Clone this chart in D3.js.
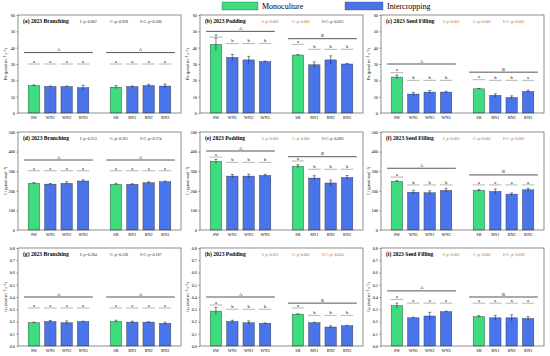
<!DOCTYPE html>
<html>
<head>
<meta charset="utf-8">
<script src="https://cdn.jsdelivr.net/npm/d3@7"></script>
<style>
  body { margin: 0; background: #fff; }
  text { font-family: "Liberation Serif", "DejaVu Serif", serif; }
</style>
</head>
<body>
<div id="chart"></div>
<script>
// treatments along the x axis (a blank slot separates the two groups)
var treatments = ["SW", "WN1", "WN2", "WN3", "SR", "RN1", "RN2", "RN3"];
var monoculture = ["SW", "SR"];

// Pn (umol m-2 s-1)
var pnBranching = [16.8, 16.2, 16.2, 15.5, 15.8, 16.2, 16.8, 16.5];
var pnBranchingErr = [0.4, 0.3, 0.3, 1.5, 1.0, 0.3, 0.8, 1.2];
var pnPodding = [42, 34, 32.5, 31.5, 35.5, 29.5, 32.5, 30];
var pnPoddingErr = [4, 1.8, 2.2, 0.3, 0.3, 1.8, 2.5, 0.3];
var pnFilling = [22, 11.6, 12.8, 12.8, 14.8, 10.8, 9.5, 13.2];
var pnFillingErr = [1.2, 1, 1, 0.5, 0.2, 1, 1, 0.8];

// Ci (umol mol-1)
var ciBranching = [238, 234, 238, 250, 233, 233, 241, 246];
var ciBranchingErr = [5, 3, 8, 6, 5, 3, 5, 4];
var ciPodding = [350, 275, 275, 278, 325, 265, 240, 268];
var ciPoddingErr = [10, 8, 10, 6, 8, 12, 14, 10];
var ciFilling = [248, 193, 190, 202, 202, 197, 183, 205];
var ciFillingErr = [4, 10, 10, 10, 4, 12, 6, 8];

// Gs (mol m-2 s-1)
var gsBranching = [0.19, 0.2, 0.19, 0.2, 0.2, 0.195, 0.195, 0.185];
var gsBranchingErr = [0.005, 0.008, 0.015, 0.003, 0.01, 0.008, 0.003, 0.01];
var gsPodding = [0.285, 0.2, 0.19, 0.185, 0.26, 0.19, 0.155, 0.165];
var gsPoddingErr = [0.03, 0.01, 0.015, 0.003, 0.003, 0.004, 0.01, 0.003];
var gsFilling = [0.33, 0.23, 0.245, 0.28, 0.24, 0.23, 0.23, 0.225];
var gsFillingErr = [0.02, 0.005, 0.03, 0.005, 0.008, 0.02, 0.025, 0.015];

// significance letters
var lettersA = ["a", "a", "a", "a", "a", "a", "a", "a"];
var lettersB = ["a", "b", "b", "b", "a", "b", "b", "b"];
var lettersC = ["a", "b", "b", "b", "a", "b", "b", "a"];
var lettersF = ["a", "b", "b", "b", "a", "a", "a", "a"];

// panel titles and p values
var titles = ["(a) 2023 Branching", "(b) 2023 Podding", "(c) 2023 Seed Filling",
              "(d) 2023 Branching", "(e) 2023 Podding", "(f) 2023 Seed Filling",
              "(g) 2023 Branching", "(h) 2023 Podding", "(i) 2023 Seed Filling"];
var pValues = [
  ["I: p=0.807", "C: p=0.928", "I×C: p=0.280"],
  ["I: p<0.001", "C: p<0.001", "I×C: p=0.035"],
  ["I: p<0.001", "C: p<0.001", "I×C: p<0.001"],
  ["I: p=0.213", "C: p=0.261", "I×C: p=0.374"],
  ["I: p<0.001", "C: p<0.001", "I×C: p=0.096"],
  ["I: p<0.001", "C: p<0.001", "I×C: p=0.002"],
  ["I: p=0.384", "C: p=0.538", "I×C: p=0.187"],
  ["I: p=0.021", "C: p<0.001", "I×C: p=0.024"],
  ["I: p=0.001", "C: p=0.001", "I×C: p=0.038"]
];
var pSignificant = [
  [false, false, false], [true, true, false], [true, true, true],
  [false, false, false], [true, true, false], [true, true, true],
  [false, false, false], [true, true, true], [true, true, true]
];

var panels = [
  {v: pnBranching, e: pnBranchingErr, max: 60, step: 10, fmt: "d", letters: lettersA, groupLetters: ["A", "A"],
   short: [30, 30, 30, 30, 30, 30, 30, 30], long: [37, 37]},
  {v: pnPodding, e: pnPoddingErr, max: 60, step: 10, fmt: "d", letters: lettersB, groupLetters: ["A", "B"],
   short: [46.5, 42.5, 42.5, 42.5, 42, 39, 39, 39], long: [50, 45.5]},
  {v: pnFilling, e: pnFillingErr, max: 60, step: 10, fmt: "d", letters: lettersC, groupLetters: ["A", "B"],
   short: [24.7, 20, 20, 20, 20.4, 20, 20, 20], long: [30, 25]},
  {v: ciBranching, e: ciBranchingErr, max: 500, step: 100, fmt: "d", letters: lettersA, groupLetters: ["A", "A"],
   short: [302, 302, 302, 302, 302, 302, 302, 302], long: [357, 357]},
  {v: ciPodding, e: ciPoddingErr, max: 500, step: 100, fmt: "d", letters: lettersB, groupLetters: ["A", "B"],
   short: [372, 345, 345, 345, 352, 310, 310, 310], long: [403, 374]},
  {v: ciFilling, e: ciFillingErr, max: 500, step: 100, fmt: "d", letters: lettersF, groupLetters: ["A", "B"],
   short: [270, 230, 230, 230, 230, 230, 230, 230], long: [315, 281]},
  {v: gsBranching, e: gsBranchingErr, max: 0.8, step: 0.1, fmt: ".1f", letters: lettersA, groupLetters: ["A", "A"],
   short: [0.31, 0.31, 0.31, 0.31, 0.31, 0.31, 0.31, 0.31], long: [0.4, 0.4]},
  {v: gsPodding, e: gsPoddingErr, max: 0.8, step: 0.1, fmt: ".1f", letters: lettersB, groupLetters: ["A", "B"],
   short: [0.335, 0.3, 0.3, 0.3, 0.31, 0.25, 0.25, 0.25], long: [0.4, 0.35]},
  {v: gsFilling, e: gsFillingErr, max: 0.8, step: 0.1, fmt: ".1f", letters: lettersA, groupLetters: ["A", "B"],
   short: [0.38, 0.35, 0.35, 0.35, 0.35, 0.35, 0.35, 0.35], long: [0.45, 0.4]}
];

var yTitles = ["Pn (μmol m⁻² s⁻¹)", "Ci (μmol mol⁻¹)", "Gs (mol m⁻² s⁻¹)"];

var greenFill = "#3ddc7e", blueFill = "#4a74ea";
var sigColor = "#b5651d";

var svg = d3.select("#chart").append("svg")
  .attr("width", 550)
  .attr("height", 356);

// legend
var legend = svg.append("g").attr("transform", "translate(222, 2)");
legend.append("rect").attr("x", 0).attr("y", 0).attr("width", 36).attr("height", 8)
  .attr("fill", greenFill).attr("stroke", "#333").attr("stroke-width", 0.3);
legend.append("text").attr("x", 40).attr("y", 7.2).attr("font-size", 8).text("Monoculture");
legend.append("rect").attr("x", 123).attr("y", 0).attr("width", 38).attr("height", 8)
  .attr("fill", blueFill).attr("stroke", "#333").attr("stroke-width", 0.3);
legend.append("text").attr("x", 165).attr("y", 7.2).attr("font-size", 8).text("Intercropping");

var colLeft = [18, 200, 381];
var rowTop = [15, 132, 248];
var w = 163, h = 98;

var slots = ["SW", "WN1", "WN2", "WN3", "", "SR", "RN1", "RN2", "RN3"];
var x = d3.scaleBand().domain(slots).range([0, w]).paddingInner(0.3).paddingOuter(0.62);
var bw = x.bandwidth();

panels.forEach(function(p, i) {
  var col = i % 3, row = Math.floor(i / 3);
  var g = svg.append("g").attr("transform", "translate(" + colLeft[col] + "," + rowTop[row] + ")");

  var y = d3.scaleLinear().domain([0, p.max]).range([h, 0]);
  var ticks = d3.range(0, p.max + p.step / 2, p.step);

  g.append("g")
    .attr("class", "yaxis")
    .call(d3.axisLeft(y).tickValues(ticks).tickSize(1.5).tickPadding(1.5).tickFormat(d3.format(p.fmt)))
    .call(function(a) {
      a.select(".domain").remove();
      a.selectAll("text").attr("font-size", 4.3).attr("font-family", "Liberation Serif");
      a.selectAll("line").attr("stroke-width", 0.4);
    });

  g.append("text")
    .attr("transform", "translate(" + (-11) + "," + (h / 2) + ") rotate(-90)")
    .attr("text-anchor", "middle")
    .attr("font-size", 4.3)
    .text(yTitles[row]);

  var data = treatments.map(function(t, j) {
    return {t: t, v: p.v[j], e: p.e[j], s: p.short[j], l: p.letters[j]};
  });

  // bars
  g.selectAll(".bar").data(data).enter().append("rect")
    .attr("x", function(d) { return x(d.t); })
    .attr("y", function(d) { return y(d.v); })
    .attr("width", bw)
    .attr("height", function(d) { return h - y(d.v); })
    .attr("fill", function(d) { return monoculture.indexOf(d.t) >= 0 ? greenFill : blueFill; })
    .attr("stroke", "#333")
    .attr("stroke-width", 0.4);

  // error bars
  var eb = g.selectAll(".err").data(data).enter().append("g");
  eb.append("line")
    .attr("x1", function(d) { return x(d.t) + bw / 2; })
    .attr("x2", function(d) { return x(d.t) + bw / 2; })
    .attr("y1", function(d) { return y(d.v - d.e); })
    .attr("y2", function(d) { return y(d.v + d.e); })
    .attr("stroke", "#111").attr("stroke-width", 0.5);
  eb.append("line")
    .attr("x1", function(d) { return x(d.t) + bw / 2 - 1.5; })
    .attr("x2", function(d) { return x(d.t) + bw / 2 + 1.5; })
    .attr("y1", function(d) { return y(d.v + d.e); })
    .attr("y2", function(d) { return y(d.v + d.e); })
    .attr("stroke", "#111").attr("stroke-width", 0.5);

  // small significance lines + letters
  g.selectAll(".sig").data(data).enter().append("line")
    .attr("x1", function(d) { return x(d.t) - 0.5; })
    .attr("x2", function(d) { return x(d.t) + bw + 0.5; })
    .attr("y1", function(d) { return y(d.s); })
    .attr("y2", function(d) { return y(d.s); })
    .attr("stroke", "#444").attr("stroke-width", 0.4);
  g.selectAll(".sigt").data(data).enter().append("text")
    .attr("x", function(d) { return x(d.t) + bw / 2; })
    .attr("y", function(d) { return y(d.s) - 1.2; })
    .attr("text-anchor", "middle")
    .attr("font-size", 4.5)
    .text(function(d) { return d.l; });

  // group lines
  var groupsDef = [["SW", "WN3"], ["SR", "RN3"]];
  groupsDef.forEach(function(gr, k) {
    var x1 = x(gr[0]) - 4, x2 = x(gr[1]) + bw + 4;
    g.append("line")
      .attr("x1", x1).attr("x2", x2)
      .attr("y1", y(p.long[k])).attr("y2", y(p.long[k]))
      .attr("stroke", "#555").attr("stroke-width", 1);
    g.append("text")
      .attr("x", (x1 + x2) / 2).attr("y", y(p.long[k]) - 1.5)
      .attr("text-anchor", "middle").attr("font-size", 4.5)
      .attr("fill", "#111")
      .text(p.groupLetters[k]);
  });

  // x labels
  g.selectAll(".xl").data(data).enter().append("text")
    .attr("x", function(d) { return x(d.t) + bw / 2; })
    .attr("y", h + 5.5)
    .attr("text-anchor", "middle")
    .attr("font-size", 4.3)
    .text(function(d) { return d.t; });

  // frame
  g.append("rect").attr("width", w).attr("height", h)
    .attr("fill", "none").attr("stroke", "#444").attr("stroke-width", 0.6);

  // title and p values
  g.append("text").attr("x", 5).attr("y", 8)
    .attr("font-size", 5.6).attr("font-weight", "bold")
    .text(titles[i]);
  pValues[i].forEach(function(t, k) {
    g.append("text")
      .attr("x", 62 + k * 30).attr("y", 8)
      .attr("font-size", 4)
      .attr("fill", pSignificant[i][k] ? sigColor : "#222")
      .text(t);
  });
});
</script>
</body>
</html>
